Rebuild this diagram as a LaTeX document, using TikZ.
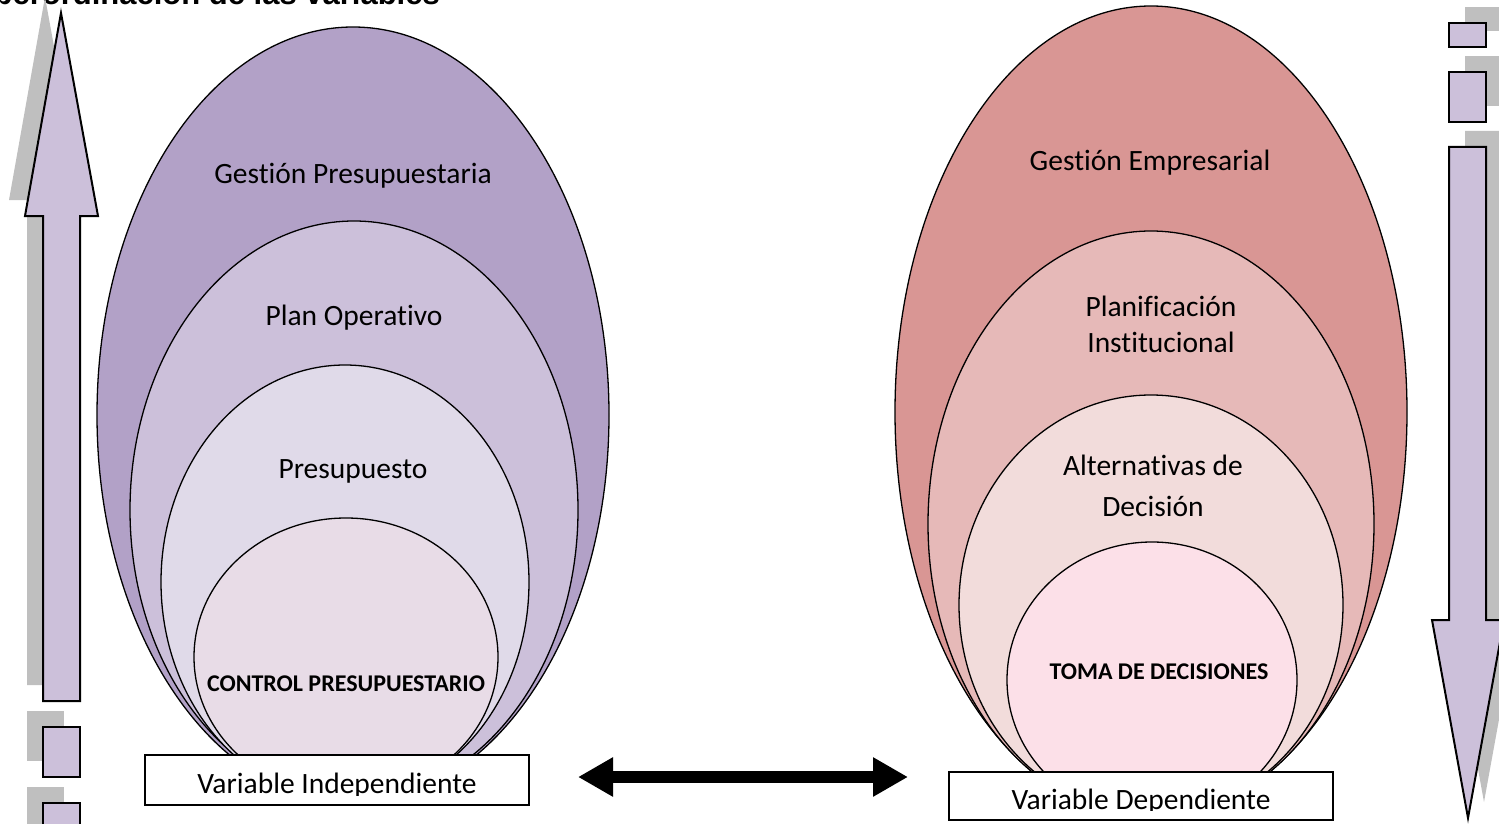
\documentclass[tikz,border=0pt]{standalone}
\usepackage{fontspec}
\setmainfont{Carlito}[Ligatures=NoCommon]
\newfontfamily\titlefont{Liberation Sans}
\usetikzlibrary{arrows.meta}

\definecolor{lilaA}{RGB}{178,161,199}
\definecolor{lilaB}{RGB}{204,192,218}
\definecolor{lilaC}{RGB}{224,218,233}
\definecolor{lilaD}{RGB}{232,220,231}
\definecolor{rosaA}{RGB}{217,150,148}
\definecolor{rosaB}{RGB}{230,185,184}
\definecolor{rosaC}{RGB}{242,220,219}
\definecolor{rosaD}{RGB}{252,224,232}
\definecolor{sombra}{RGB}{191,191,191}

\begin{document}
\begin{tikzpicture}[x=1pt,y=-1pt,
    capa/.style={draw=black, line width=1.3pt},
    txt/.style={font=\fontsize{29.5}{36}\selectfont, inner sep=0pt},
    nucleo/.style={font=\bfseries\fontsize{24}{28}\selectfont, inner sep=0pt},
    flecha/.style={draw=black, fill=lilaB, line width=2pt, line join=miter},
    caja/.style={draw=black, fill=white, line width=1.3pt, minimum width=384pt, inner sep=0pt}]
    \useasboundingbox (0,0) rectangle (1499,824);

    % titulo (cortado arriba)
    \node[font=\titlefont\bfseries\fontsize{31}{36}\selectfont, anchor=base east, inner sep=0pt] (titulo) at (440,5) {Superordinación de las variables};

    % flecha izquierda hacia arriba
    \fill[sombra] (27,685) -- (27,200) -- (9,200) -- (45,-3) -- (82,200) -- (64,200) -- (64,685) -- cycle;
    \filldraw[flecha] (43,701) -- (43,216) -- (25,216) -- (61,13) -- (98,216) -- (80,216) -- (80,701) -- cycle;
    \fill[sombra] (27,711) rectangle (64,761);
    \filldraw[flecha] (43,727) rectangle (80,777);
    \fill[sombra] (27,787) rectangle (64,830);
    \filldraw[flecha] (43,803) rectangle (80,840);

    % flecha derecha hacia abajo
    \fill[sombra] (1465,7) rectangle (1502,31);
    \filldraw[flecha] (1449,23) rectangle (1486,47);
    \fill[sombra] (1465,56) rectangle (1502,106);
    \filldraw[flecha] (1449,72) rectangle (1486,122);
    \fill[sombra] (1465,131) -- (1465,604) -- (1448,604) -- (1484,802) -- (1520,604) -- (1502,604) -- (1502,131) -- cycle;
    \filldraw[flecha] (1449,147) -- (1449,620) -- (1432,620) -- (1468,818) -- (1504,620) -- (1486,620) -- (1486,147) -- cycle;

    % variable independiente
    \filldraw[capa, fill=lilaA] (353,415) ellipse [x radius=256, y radius=388];
    \filldraw[capa, fill=lilaB] (354,510) ellipse [x radius=224, y radius=289];
    \filldraw[capa, fill=lilaC] (345,582) ellipse [x radius=184, y radius=217];
    \filldraw[capa, fill=lilaD] (346,657) ellipse [x radius=152, y radius=139];

    % variable dependiente
    \filldraw[capa, fill=rosaA] (1151,412) ellipse [x radius=256, y radius=406];
    \filldraw[capa, fill=rosaB] (1151,524) ellipse [x radius=223, y radius=293];
    \filldraw[capa, fill=rosaC] (1151,605) ellipse [x radius=192, y radius=210];
    \filldraw[capa, fill=rosaD] (1152,680) ellipse [x radius=145, y radius=138];

    \node[txt, anchor=base] (gp) at (353,183) {Gestión Presupuestaria};
    \node[txt, anchor=base] (po) at (354,325) {Plan Operativo};
    \node[txt, anchor=base] (pr) at (353,478) {Presupuesto};
    \node[nucleo, anchor=base] (cp) at (346,691) {CONTROL PRESUPUESTARIO};

    \node[txt, anchor=base] (ge) at (1150,171) {Gestión Empresarial};
    \node[txt, align=center] (pi) at (1161,324) {Planificación\\Institucional};
    \node[txt, align=center, font=\fontsize{29.5}{41}\selectfont] (ad) at (1153,486) {Alternativas de\\Decisión};
    \node[nucleo, anchor=base] (td) at (1159,679) {TOMA DE DECISIONES};

    % cajas
    \node[caja, minimum height=50pt] (indep) at (337,780) {};
    \node[caja, minimum height=48pt] (dep) at (1141,796) {};
    \begin{scope}
        \clip (145,755) rectangle (529,795);
        \node[txt, anchor=base] (indeptxt) at (337,793) {Variable Independiente};
    \end{scope}
    \begin{scope}
        \clip (949,772) rectangle (1333,810);
        \node[txt, anchor=base] (deptxt) at (1141,809) {Variable Dependiente};
    \end{scope}

    % relacion entre variables
    \coordinate (ri) at (578,777);
    \coordinate (rd) at (908,777);
    \draw[line width=12pt, {Triangle[length=35pt,width=37pt]}-{Triangle[length=35pt,width=37pt]}] (ri) -- (rd);
\end{tikzpicture}
\end{document}
